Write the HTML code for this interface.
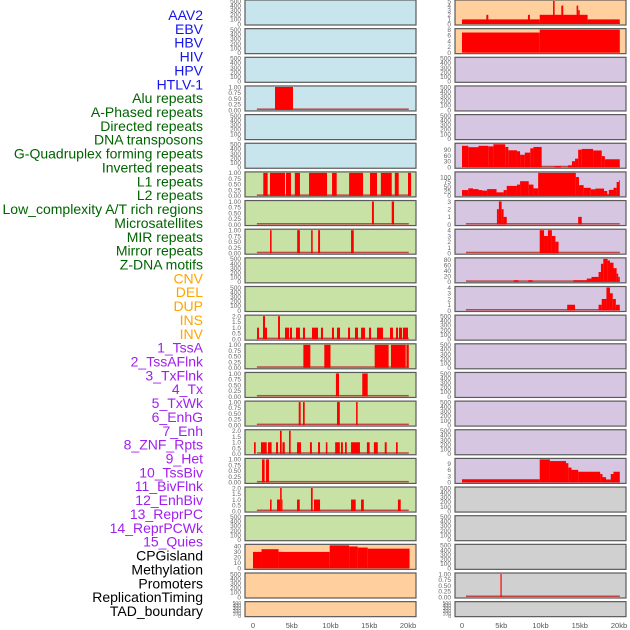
<!DOCTYPE html>
<html><head><meta charset="utf-8"><style>
body{margin:0;background:#fff;width:630px;height:630px;overflow:hidden}
svg{display:block}
</style></head><body>
<svg id="chart" width="630" height="630" xmlns="http://www.w3.org/2000/svg" font-family="Liberation Sans, sans-serif"></svg>
<script>
// ---- labels ----
const labelNames = ["AAV2","EBV","HBV","HIV","HPV","HTLV-1","Alu repeats","A-Phased repeats","Directed repeats","DNA transposons","G-Quadruplex forming repeats","Inverted repeats","L1 repeats","L2 repeats","Low_complexity A/T rich regions","Microsatellites","MIR repeats","Mirror repeats","Z-DNA motifs","CNV","DEL","DUP","INS","INV","1_TssA","2_TssAFlnk","3_TxFlnk","4_Tx","5_TxWk","6_EnhG","7_Enh","8_ZNF_Rpts","9_Het","10_TssBiv","11_BivFlnk","12_EnhBiv","13_ReprPC","14_ReprPCWk","15_Quies","CPGisland","Methylation","Promoters","ReplicationTiming","TAD_boundary"];
const labelGroupSizes = [6,13,5,15,5];
const labelColors = ["#1515e8","#006400","#ffa500","#a020f0","#000000"];
const xTickKb = [0,5,10,15,20];
const xTickLabels = ["0","5kb","10kb","15kb","20kb"];

// ---- per-panel data: segments [startKb, endKb, value] ----
const emptyTicks = [0,100,200,300,400,500];
const unitTicks = [0,0.25,0.5,0.75,1];
const twoTicks = [0,0.5,1,1.5,2];
// left column
const aluSegs = [[2.84,5.16,1]];
const l1Segs = [[1.33,1.89,1],[2.19,4.13,1],[4.26,4.9,1],[5.4,6.06,1],[7.23,9.55,1],[10.2,10.8,1],[12.4,14.2,1],[15.1,16.0,1],[16.5,17.9,1],[18.3,18.8,1],[20.0,20.4,1]];
const lowComplexSegs = [[15.35,15.6,1],[17.9,18.2,1]];
const mirSegs = [[2.2,2.4,1],[5.7,6.05,1],[7.5,7.7,1],[8.4,8.65,1],[12.65,13.0,1]];
const insSegs = [[0.52,0.77,1],[1.29,1.55,2],[1.55,1.81,1],[3.23,3.48,2],[4.13,4.65,1],[4.77,5.03,1],[5.55,6.06,1],[6.45,6.71,1],[7.61,8.39,1],[8.77,9.03,1],[10.19,10.45,1],[10.84,11.23,1],[12.26,12.52,1],[13.16,13.55,1],[13.94,14.45,1],[14.97,15.23,1],[16.0,16.77,1],[17.68,18.06,1],[18.45,18.71,1],[18.84,19.23,1],[19.35,20.0,1]];
const tssaSegs = [[6.5,7.4,1],[9.2,10.0,1],[15.7,17.5,1],[17.8,19.7,1],[19.8,20.1,1]];
const txflnkSegs = [[10.7,11.1,1],[14.1,14.8,1]];
const txwkSegs = [[5.9,6.15,1],[6.45,6.67,1],[10.84,11.2,1],[13.3,13.5,1]];
const enhSegs = [[0.13,0.35,1],[1.03,1.77,1],[1.94,2.4,1],[2.97,3.23,1],[3.48,3.7,2],[3.8,4.1,1],[4.65,4.86,2],[5.68,6.19,1],[7.35,7.6,1],[8.39,8.65,1],[9.4,9.6,1],[10.6,11.2,1],[11.35,11.6,1],[11.87,12.1,1],[12.65,13.8,1],[14.7,15.05,1],[15.6,16.1,1],[17.0,17.25,1],[18.45,18.67,1]];
const tssbivSegs = [[1.16,1.5,1],[1.68,2.06,1]];
const enhbivSegs = [[2.2,2.4,1],[3.1,3.5,1],[3.5,3.7,2],[3.7,3.8,1],[5.68,6.03,1],[7.48,7.7,2],[7.87,8.65,1],[12.65,13.25,1],[13.94,14.3,1],[18.7,19.06,1]];
const cpgSegs = [[0,1.1,30],[1.1,3.3,35],[3.3,9.9,30],[9.9,12.4,42],[12.4,13.5,40],[13.5,14.8,38],[14.8,20.2,36]];
// right column
const aav2Segs = [[0,9.9,1],[9.9,16,2],[16,20.1,1],[3.1,3.35,2],[8.4,8.65,2],[11.6,11.8,5],[12.65,12.9,4],[14.6,14.8,4],[14.8,15.0,3]];
const ebvSegs = [[0,9.9,7],[9.9,20.1,8]];
const gquadSegs = [[0,0.8,110],[0.8,2.1,103],[2.1,3.35,110],[3.35,4.0,107],[4.0,5.5,118],[5.5,5.9,104],[5.9,7.0,87],[7.0,7.4,82],[7.4,8.0,64],[8.0,8.7,75],[8.7,9.1,97],[9.1,10.15,104],[11.8,12.6,6],[13.5,14.0,10],[14.0,14.4,31],[14.4,14.8,44],[14.8,15.25,90],[15.25,16.7,94],[16.7,17.8,86],[17.8,18.2,57],[18.2,20.1,41]];
const invSegs = [[0,0.8,31],[0.8,1.4,40],[1.4,2.1,36],[2.1,2.6,31],[2.6,3.2,28],[3.2,4.4,36],[4.4,5.3,19],[5.3,5.7,31],[5.7,7.0,53],[7.0,7.4,60],[7.4,8.5,78],[8.5,9.1,60],[9.1,9.7,40],[9.7,14.5,122],[14.5,14.9,100],[14.9,15.5,57],[15.5,16.4,43],[16.4,17.0,35],[17.0,18.1,39],[18.1,18.5,26],[18.5,18.7,9],[18.7,19.3,32],[19.3,19.7,43],[19.7,20.0,74],[20.0,20.1,83]];
const l2Segs = [[4.45,4.7,2],[4.7,5.05,3],[5.05,5.3,2],[5.3,5.7,1],[14.8,15.25,1]];
const microSegs = [[9.9,10.45,4],[10.45,10.95,3],[10.95,11.45,4],[11.45,11.9,3],[11.9,12.3,2]];
const zdnaSegs = [[6.6,7.2,6],[8.45,9.0,6],[14.2,15.9,6],[15.9,16.5,12],[16.5,17.4,18],[17.4,17.7,36],[17.7,18.0,66],[18.0,18.55,84],[18.55,18.85,78],[18.85,19.3,70],[19.3,19.7,50],[19.7,19.9,30],[19.9,20.1,18]];
const dupSegs = [[13.4,14.4,1],[17.4,17.8,1],[17.8,18.15,2],[18.15,18.4,2],[18.4,18.85,4],[18.85,19.2,3],[19.2,19.6,2],[19.6,20.1,1]];
const hetSegs = [[0,9.9,1.5],[9.9,11.2,11],[11.2,13.25,10.2],[13.25,13.55,9.2],[13.55,13.95,7.1],[13.95,14.8,6],[14.8,17.6,5.1],[17.6,17.9,4],[17.9,18.35,2.5],[18.35,18.95,1.4],[18.95,19.3,4],[19.3,20.1,5.1]];
const promSegs = [[4.9,5.05,1]];

const FILL = {blue:"#c8e4ec",green:"#c8e1a5",orange:"#ffcf9e",lav:"#d6c6e2",gray:"#d0d0d0"};
// [col,row,fill,ticks,segs,name]
const panels = [
 [0,0,"blue",emptyTicks,null,"aav2-left"],[0,1,"blue",emptyTicks,null,"hbv-left"],[0,2,"blue",emptyTicks,null,"hpv-left"],
 [0,3,"blue",unitTicks,aluSegs,"alu"],[0,4,"blue",emptyTicks,null,"directed"],[0,5,"blue",emptyTicks,null,"gquad-left"],
 [0,6,"green",unitTicks,l1Segs,"l1"],[0,7,"green",unitTicks,lowComplexSegs,"low-complexity"],[0,8,"green",unitTicks,mirSegs,"mir"],
 [0,9,"green",emptyTicks,null,"zdna-left"],[0,10,"green",emptyTicks,null,"del-left"],[0,11,"green",twoTicks,insSegs,"ins"],
 [0,12,"green",unitTicks,tssaSegs,"tssa"],[0,13,"green",unitTicks,txflnkSegs,"txflnk"],[0,14,"green",unitTicks,txwkSegs,"txwk"],
 [0,15,"green",twoTicks,enhSegs,"enh"],[0,16,"green",unitTicks,tssbivSegs,"tssbiv"],[0,17,"green",twoTicks,enhbivSegs,"enhbiv"],
 [0,18,"green",emptyTicks,null,"reprpc"],[0,19,"orange",[0,10,20,30,40],cpgSegs,"cpg"],[0,20,"orange",emptyTicks,null,"promoters-left"],
 [0,21,"orange",emptyTicks,null,"tad-left"],
 [1,0,"orange",[0,1,2,3,4,5],aav2Segs,"aav2-right"],[1,1,"orange",[0,2,4,6,8],ebvSegs,"ebv-right"],[1,2,"lav",emptyTicks,null,"hiv-right"],
 [1,3,"lav",emptyTicks,null,"htlv-right"],[1,4,"lav",emptyTicks,null,"aphased-right"],[1,5,"lav",[0,30,60,90],gquadSegs,"gquad-right"],
 [1,6,"lav",[0,25,50,75,100],invSegs,"inverted-right"],[1,7,"lav",[0,1,2,3],l2Segs,"l2-right"],[1,8,"lav",[0,1,2,3,4],microSegs,"micro-right"],
 [1,9,"lav",[0,20,40,60,80],zdnaSegs,"zdna-right"],[1,10,"lav",[0,1,2,3,4],dupSegs,"dup-right"],[1,11,"lav",emptyTicks,null,"inv-right"],
 [1,12,"lav",emptyTicks,null,"tssaflnk-right"],[1,13,"lav",emptyTicks,null,"tx-right"],[1,14,"lav",emptyTicks,null,"enhg-right"],
 [1,15,"lav",emptyTicks,null,"znf-right"],[1,16,"lav",[0,3,6,9],hetSegs,"het-right"],[1,17,"gray",emptyTicks,null,"bivflnk-right"],
 [1,18,"gray",emptyTicks,null,"reprpcwk-right"],[1,19,"gray",emptyTicks,null,"quies-right"],[1,20,"gray",unitTicks,promSegs,"promoters-right"],
 [1,21,"gray",emptyTicks,null,"tad-right"]
];
const tickMax = {"aav2-right":5,"inverted-right":122,"gquad-right":118,"zdna-right":84,"het-right":11,"cpg":42};

const NS="http://www.w3.org/2000/svg";
const svg=document.getElementById('chart');
function mk(tag,attrs,parent){const e=document.createElementNS(NS,tag);for(const k in attrs)e.setAttribute(k,attrs[k]);(parent||svg).appendChild(e);return e;}
const colX=[{box:245,w:171,x0:253,s:7.75,tickX:241},{box:455,w:171,x0:462,s:7.85,tickX:451}];
function xScale(col,kb){return colX[col].x0+kb*colX[col].s;}
function rowTop(r){return r*28.65;}
function rowH(r){return r===21?15:25;}
function fmt(v,ticks){const step=ticks[1]-ticks[0];if(step===0.25)return v.toFixed(2);if(step===0.5)return v.toFixed(1);return String(v);}

// labels
let li=0;
labelGroupSizes.forEach((n,g)=>{for(let k=0;k<n;k++){const t=mk('text',{x:203,y:15+li*13.86+5,'text-anchor':'end','font-size':14,fill:labelColors[g]});t.textContent=labelNames[li];


li++;}});

panels.forEach(p=>{
 const [col,row,fill,ticks,segs,name]=p;
 const c=colX[col],top=rowTop(row),h=rowH(row),bot=top+h;
 const g=mk('g',{});
 
 
 const bg=mk('rect',{x:c.box,y:top,width:c.w,height:h,fill:FILL[fill],stroke:'#5a5a5a','stroke-width':1.2},g);
 
 
 const vmax=ticks[ticks.length-1];
 const topMax=tickMax[name]||vmax;
 const y0=bot-1,y1=top+1;
 const yS=v=>y0-(v/topMax)*(y0-y1);
 ticks.forEach(v=>{const t=mk('text',{x:c.tickX,y:yS(v)+2.3,'text-anchor':'end','font-size':h<20?5:6.5,fill:'#666'},g);t.textContent=fmt(v,ticks);
  
  });
 if(segs){
  const bl=mk('rect',{x:xScale(col,0.5),y:y0-1.5,width:xScale(col,20.1)-xScale(col,0.5),height:1.5,fill:'#c04545'},g);
  
  
  segs.forEach(s=>{const xa=xScale(col,s[0]),xb=xScale(col,s[1]);const r=mk('rect',{x:xa,y:yS(s[2]),width:Math.max(0.8,xb-xa),height:y0-yS(s[2]),fill:'#ff0000'},g);
   
   });
 }
});
// x axes
[0,1].forEach(col=>{xTickKb.forEach((kb,i)=>{const t=mk('text',{x:xScale(col,kb),y:628,'text-anchor':'middle','font-size':7.5,fill:'#555'});t.textContent=xTickLabels[i];
 
 });});
</script>
</body></html>
